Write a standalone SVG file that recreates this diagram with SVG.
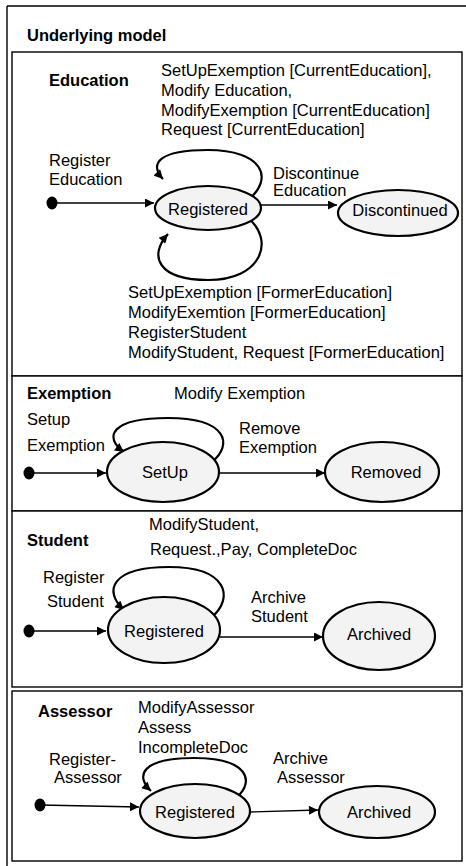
<svg xmlns="http://www.w3.org/2000/svg" width="466" height="866" viewBox="0 0 466 866">
<style>
text{font-family:"Liberation Sans",Arial,sans-serif;font-size:16.5px;fill:#000}
.b{font-weight:bold}
.m{text-anchor:middle}
.box{fill:#fff;stroke:#000;stroke-width:1.4}
.st{fill:#f3f3f3;stroke:#000;stroke-width:2.2}
.lp{fill:none;stroke:#000;stroke-width:2.2}
.ar{fill:none;stroke:#000;stroke-width:1.3}
</style>
<defs>
<marker id="ah" viewBox="0 0 10 10" refX="10" refY="5" markerWidth="10" markerHeight="9" markerUnits="userSpaceOnUse" orient="auto"><path d="M0,0L10,5L0,10z" fill="#000"/></marker>
</defs>
<rect x="0" y="0" width="466" height="866" fill="#fff"/>
<path d="M7,6H468M7,6V868" fill="none" stroke="#000" stroke-width="1.4"/>
<text class="b" x="27" y="41">Underlying model</text>

<g id="education">
<rect class="box" x="12" y="52" width="450" height="324"/>
<text class="b" x="49" y="86">Education</text>
<text x="161" y="76">SetUpExemption [CurrentEducation],</text>
<text x="161" y="96">Modify Education,</text>
<text x="161" y="116">ModifyExemption [CurrentEducation]</text>
<text x="161" y="135">Request [CurrentEducation]</text>
<text x="49" y="166">Register</text>
<text x="49" y="185">Education</text>
<text x="273" y="179">Discontinue</text>
<text x="273" y="196">Education</text>
<text x="128" y="298">SetUpExemption [FormerEducation]</text>
<text x="128" y="318">ModifyExemtion [FormerEducation]</text>
<text x="128" y="338">RegisterStudent</text>
<text x="128" y="358">ModifyStudent, Request [FormerEducation]</text>
</g>
<g id="exemption">
<rect class="box" x="12" y="376" width="450" height="135"/>
<text class="b" x="27" y="399">Exemption</text>
<text x="174" y="399">Modify Exemption</text>
<text x="27" y="425">Setup</text>
<text x="27" y="451">Exemption</text>
<text x="239" y="434">Remove</text>
<text x="239" y="453">Exemption</text>
</g>
<g id="student">
<rect class="box" x="12" y="511" width="450" height="176"/>
<text class="b" x="27" y="546">Student</text>
<text x="149" y="530">ModifyStudent,</text>
<text x="150" y="555">Request.,Pay, CompleteDoc</text>
<text x="43" y="583">Register</text>
<text x="47" y="607">Student</text>
<text x="251" y="603">Archive</text>
<text x="251" y="622">Student</text>
</g>
<g id="assessor">
<rect class="box" x="12" y="691" width="450" height="170"/>
<text class="b" x="38" y="717">Assessor</text>
<text x="138" y="713">ModifyAssessor</text>
<text x="138" y="733">Assess</text>
<text x="138" y="753">IncompleteDoc</text>
<text x="49" y="765">Register-</text>
<text x="54" y="783">Assessor</text>
<text x="273" y="764">Archive</text>
<text x="277" y="783">Assessor</text>
</g>

<g id="connectors">
<path class="ar" d="M52,203H154" marker-end="url(#ah)"/>
<path class="ar" d="M261,205H337" marker-end="url(#ah)"/>
<path class="lp" d="M248,200C275,178 262,150 208,150C158,150 149,164 163,179" marker-end="url(#ah)"/>
<path class="lp" d="M248,218C275,240 262,280 208,280C158,280 148,256 168,234" marker-end="url(#ah)"/>
<path class="ar" d="M29,473H106" marker-end="url(#ah)"/>
<path class="ar" d="M219,473H325" marker-end="url(#ah)"/>
<path class="lp" d="M212,462C233,445 228,418 168,418C111,418 103,437 124,452" marker-end="url(#ah)"/>
<path class="ar" d="M29,631H106" marker-end="url(#ah)"/>
<path class="ar" d="M220,637H323" marker-end="url(#ah)"/>
<path class="lp" d="M212,617C234,598 228,567 169,567C111,567 103,591 124,610" marker-end="url(#ah)"/>
<path class="ar" d="M40,805L139,807" marker-end="url(#ah)"/>
<path class="ar" d="M250,812L318,810" marker-end="url(#ah)"/>
<path class="lp" d="M237,797C255,781 248,758 194,758C141,758 135,776 151,791" marker-end="url(#ah)"/>
</g>

<g id="edu-init"><ellipse cx="52" cy="203" rx="5.5" ry="6.5" fill="#000"/></g>
<g id="edu-registered"><ellipse class="st" cx="208" cy="208" rx="53" ry="22"/><text class="m" x="208" y="215">Registered</text></g>
<g id="edu-discontinued"><ellipse class="st" cx="398" cy="213" rx="60" ry="23"/><text class="m" x="400" y="216">Discontinued</text></g>
<g id="ex-init"><ellipse cx="29" cy="473" rx="5.5" ry="6.5" fill="#000"/></g>
<g id="ex-setup"><ellipse class="st" cx="163" cy="472" rx="56" ry="30"/><text class="m" x="165" y="478">SetUp</text></g>
<g id="ex-removed"><ellipse class="st" cx="382" cy="472" rx="57" ry="30"/><text class="m" x="386" y="478">Removed</text></g>
<g id="st-init"><ellipse cx="29" cy="631" rx="5.5" ry="6.5" fill="#000"/></g>
<g id="st-registered"><ellipse class="st" cx="164" cy="630" rx="56" ry="33"/><text class="m" x="164" y="637">Registered</text></g>
<g id="st-archived"><ellipse class="st" cx="379" cy="636" rx="56" ry="34"/><text class="m" x="379" y="640">Archived</text></g>
<g id="as-init"><ellipse cx="40" cy="805" rx="5.5" ry="6.5" fill="#000"/></g>
<g id="as-registered"><ellipse class="st" cx="195" cy="811" rx="55" ry="27"/><text class="m" x="195" y="818">Registered</text></g>
<g id="as-archived"><ellipse class="st" cx="377" cy="812" rx="58" ry="26"/><text class="m" x="379" y="818">Archived</text></g>
</svg>
